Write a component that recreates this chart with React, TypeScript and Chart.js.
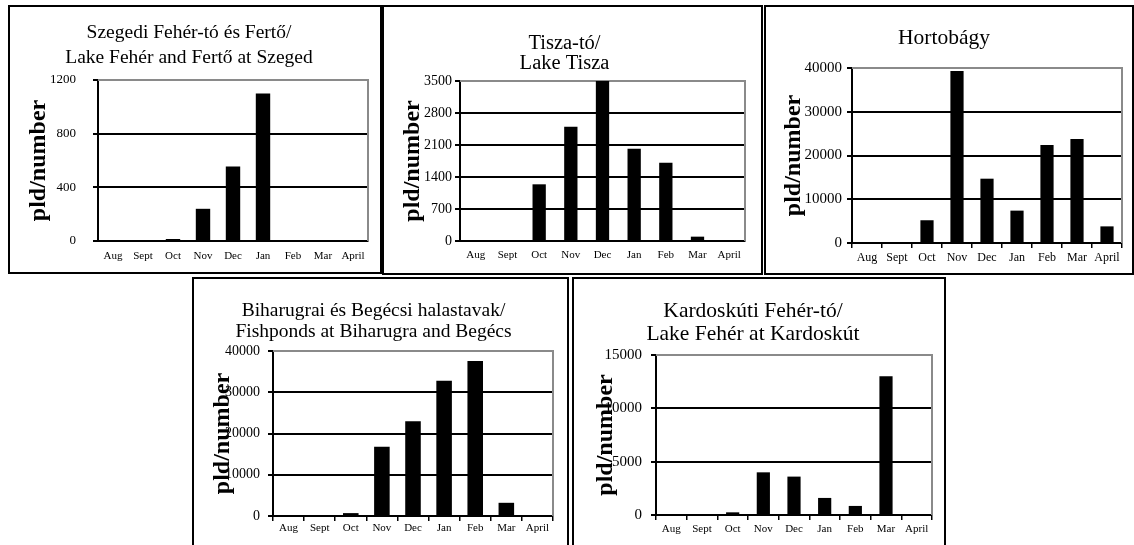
import React, { useEffect, useRef } from 'react';
import { Chart, registerables } from 'chart.js';

Chart.register(...registerables);

// ---------- data ----------
const months = ['Aug', 'Sept', 'Oct', 'Nov', 'Dec', 'Jan', 'Feb', 'Mar', 'April'];
const yAxisTitle = 'pld/number';

const szegedTitle = ['Szegedi Fehér-tó és Fertő/', 'Lake Fehér and Fertő at Szeged'];
const szegedValues = [0, 0, 15, 240, 555, 1100, 0, 0, 0];
const szegedTicks = [0, 400, 800, 1200];

const tiszaTitle = ['Tisza-tó/', 'Lake Tisza'];
const tiszaValues = [0, 0, 1240, 2500, 3500, 2020, 1710, 95, 0];
const tiszaTicks = [0, 700, 1400, 2100, 2800, 3500];

const hortobagyTitle = ['Hortobágy'];
const hortobagyValues = [0, 0, 5200, 39300, 14700, 7400, 22400, 23800, 3800];
const hortobagyTicks = [0, 10000, 20000, 30000, 40000];

const biharTitle = ['Biharugrai és Begécsi halastavak/', 'Fishponds at Biharugra and Begécs'];
const biharValues = [0, 0, 700, 16800, 23000, 32800, 37600, 3200, 0];
const biharTicks = [0, 10000, 20000, 30000, 40000];

const kardosTitle = ['Kardoskúti Fehér-tó/', 'Lake Fehér at Kardoskút'];
const kardosValues = [0, 0, 250, 4000, 3600, 1600, 850, 13000, 0];
const kardosTicks = [0, 5000, 10000, 15000];

// ---------- layout / style ----------
const FONT = '"Liberation Serif", "Times New Roman", serif';

type PanelCfg = {
  box: [number, number, number, number];
  plot: { L: number; R: number; T: number; B: number };
  title: string[];
  titleSize: number;
  titleLH: number;
  titleCenter1: number;
  values: number[];
  ticks: number[];
  yTickSize: number;
  yTickPad: number;
  yTitleCenter: number;
  xTickSize: number;
  xTickPad: number;
  xTickMarks: boolean;
  barPct: number;
};

const panels: PanelCfg[] = [
  {
    box: [8, 5, 374, 269], plot: { L: 88, R: 358, T: 73, B: 234 },
    title: szegedTitle, titleSize: 19.5, titleLH: 1.28, titleCenter1: 26,
    values: szegedValues, ticks: szegedTicks, yTickSize: 13, yTickPad: 17, yTitleCenter: 28.7,
    xTickSize: 11, xTickPad: 8.4, xTickMarks: false, barPct: 0.48,
  },
  {
    box: [382, 5, 381, 270], plot: { L: 76, R: 361, T: 74, B: 234 },
    title: tiszaTitle, titleSize: 20.5, titleLH: 0.98, titleCenter1: 37,
    values: tiszaValues, ticks: tiszaTicks, yTickSize: 14, yTickPad: 3, yTitleCenter: 28.5,
    xTickSize: 11, xTickPad: 7.4, xTickMarks: false, barPct: 0.42,
  },
  {
    box: [764, 5, 370, 270], plot: { L: 86, R: 356, T: 61, B: 236 },
    title: hortobagyTitle, titleSize: 21.5, titleLH: 1.2, titleCenter1: 31,
    values: hortobagyValues, ticks: hortobagyTicks, yTickSize: 15, yTickPad: 5, yTitleCenter: 28,
    xTickSize: 12, xTickPad: 2.8, xTickMarks: true, barPct: 0.44,
  },
  {
    box: [192, 277, 377, 272], plot: { L: 79, R: 359, T: 72, B: 237 },
    title: biharTitle, titleSize: 19.5, titleLH: 1.1, titleCenter1: 31.7,
    values: biharValues, ticks: biharTicks, yTickSize: 14, yTickPad: 8, yTitleCenter: 28.5,
    xTickSize: 11, xTickPad: 0.6, xTickMarks: true, barPct: 0.5,
  },
  {
    box: [572, 277, 374, 272], plot: { L: 82, R: 358, T: 76, B: 236 },
    title: kardosTitle, titleSize: 21.5, titleLH: 1.07, titleCenter1: 32,
    values: kardosValues, ticks: kardosTicks, yTickSize: 15, yTickPad: 9, yTitleCenter: 31.8,
    xTickSize: 11, xTickPad: 2.7, xTickMarks: true, barPct: 0.43,
  },
];

const plotFrame = {
  id: 'plotFrame',
  beforeDatasetsDraw(chart: any) {
    const { ctx, chartArea } = chart;
    const { left, top, right, bottom } = chartArea;
    ctx.save();
    ctx.strokeStyle = '#8a8a8a';
    ctx.lineWidth = 2;
    ctx.beginPath();
    ctx.moveTo(left, top);
    ctx.lineTo(right, top);
    ctx.lineTo(right, bottom);
    ctx.stroke();
    ctx.restore();
  },
};

function buildConfig(cfg: PanelCfg): any {
  const innerW = cfg.box[2] - 4;
  const innerH = cfg.box[3] - 4;
  const xAxisH = 26;
  const lineH = cfg.titleSize * cfg.titleLH;
  const titlePadTop = cfg.titleCenter1 - lineH / 2;
  const titlePadBottom = cfg.plot.T - titlePadTop - lineH * cfg.title.length;
  const max = cfg.ticks[cfg.ticks.length - 1];
  const ySize = 24;
  const yTitleLH = ySize * 1.2;
  return {
    type: 'bar',
    data: {
      labels: months,
      datasets: [
        {
          data: cfg.values,
          backgroundColor: '#000000',
          borderWidth: 0,
          barPercentage: cfg.barPct,
          categoryPercentage: 1,
        },
      ],
    },
    options: {
      animation: false,
      responsive: false,
      devicePixelRatio: 1,
      layout: {
        padding: {
          left: 0,
          top: 0,
          right: innerW - cfg.plot.R,
          bottom: innerH - cfg.plot.B - xAxisH,
        },
      },
      plugins: {
        legend: { display: false },
        tooltip: { enabled: false },
        title: {
          display: true,
          text: cfg.title,
          color: '#000',
          font: { family: FONT, size: cfg.titleSize, weight: 'normal', lineHeight: cfg.titleLH },
          padding: { top: titlePadTop, bottom: titlePadBottom },
        },
      },
      scales: {
        x: {
          afterFit: (s: any) => { s.height = xAxisH; },
          grid: {
            display: true,
            drawOnChartArea: false,
            drawTicks: cfg.xTickMarks,
            tickLength: 5,
            offset: true,
            color: '#000',
            lineWidth: 1.5,
          },
          border: { color: '#000', width: 2 },
          ticks: {
            color: '#000',
            font: { family: FONT, size: cfg.xTickSize },
            padding: cfg.xTickPad,
            maxRotation: 0,
            autoSkip: false,
          },
        },
        y: {
          min: 0,
          max: max,
          afterFit: (s: any) => { s.width = cfg.plot.L; },
          afterBuildTicks: (s: any) => { s.ticks = cfg.ticks.map((v) => ({ value: v })); },
          grid: {
            color: (c: any) => (c.tick && c.tick.value === max ? '#8a8a8a' : '#000'),
            tickColor: '#000',
            lineWidth: 2,
            tickLength: 5,
          },
          border: { color: '#000', width: 2 },
          ticks: {
            color: '#000',
            font: { family: FONT, size: cfg.yTickSize },
            padding: cfg.yTickPad,
            callback: (v: any) => String(v),
          },
          title: {
            display: true,
            text: yAxisTitle,
            color: '#000',
            font: { family: FONT, size: ySize, weight: 'bold', lineHeight: 1.2 },
            padding: { top: cfg.yTitleCenter - yTitleLH / 2, bottom: 0 },
          },
        },
      },
    },
    plugins: [plotFrame],
  };
}

function Panel({ cfg }: { cfg: PanelCfg }) {
  const ref = useRef<HTMLCanvasElement>(null);
  useEffect(() => {
    const chart = new Chart(ref.current as HTMLCanvasElement, buildConfig(cfg));
    return () => chart.destroy();
  }, [cfg]);
  const [left, top, width, height] = cfg.box;
  return (
    <div
      style={{
        position: 'absolute',
        left,
        top,
        width,
        height,
        border: '2px solid #000',
        boxSizing: 'border-box',
        background: '#fff',
      }}
    >
      <canvas ref={ref} width={width - 4} height={height - 4} style={{ display: 'block' }} />
    </div>
  );
}

export default function App() {
  return (
    <div
      style={{
        position: 'absolute',
        left: 0,
        top: 0,
        width: 1134,
        height: 545,
        overflow: 'hidden',
        background: '#fff',
      }}
    >
      {panels.map((p, i) => (
        <Panel key={i} cfg={p} />
      ))}
    </div>
  );
}
